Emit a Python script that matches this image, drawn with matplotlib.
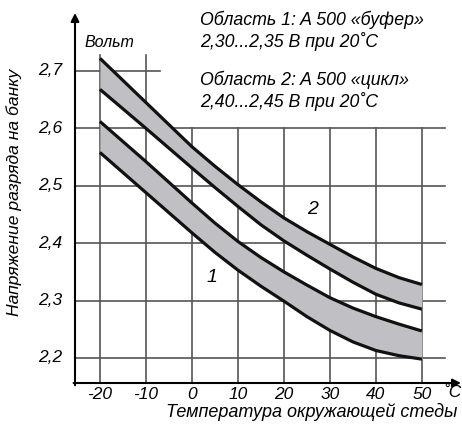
import matplotlib
matplotlib.use("Agg")
import matplotlib.pyplot as plt
import numpy as np

plt.rcParams['font.family'] = ['Liberation Sans', 'DejaVu Sans']

# Temperature, deg C
temps = [-20, -10, 0, 5, 10, 15, 20, 25, 30, 35, 40, 45, 50]
# Region 2 ("cycle") band, upper and lower edge, V
band2_top = [2.722, 2.645, 2.568, 2.534, 2.502, 2.472, 2.444, 2.420, 2.398, 2.376, 2.356, 2.340, 2.328]
band2_bot = [2.668, 2.600, 2.531, 2.497, 2.464, 2.432, 2.404, 2.379, 2.355, 2.332, 2.311, 2.296, 2.285]
# Region 1 ("buffer") band
band1_top = [2.612, 2.542, 2.470, 2.435, 2.403, 2.375, 2.350, 2.327, 2.305, 2.287, 2.272, 2.259, 2.247]
band1_bot = [2.558, 2.488, 2.418, 2.384, 2.353, 2.325, 2.299, 2.272, 2.248, 2.228, 2.213, 2.204, 2.198]

x_ticks = [-20, -10, 0, 10, 20, 30, 40, 50]
x_tick_labels = ["-20", "-10", "0", "10", "20", "30", "40", "50"]
y_ticks = [2.2, 2.3, 2.4, 2.5, 2.6, 2.7]
y_tick_labels = ["2,2", "2,3", "2,4", "2,5", "2,6", "2,7"]

xmin, xmax = -25.43, 58.5
ymin, ymax = 2.1564, 2.801

fig = plt.figure(figsize=(4.62, 4.25), dpi=100)
ax = fig.add_axes([75 / 462, 42 / 425, (461 - 75) / 462, (383 - 13) / 425])
ax.set_xlim(xmin, xmax)
ax.set_ylim(ymin, ymax)
ax.axis("off")

grid_color = "#555555"
# horizontal grid lines
for v in y_ticks:
    right = -7 if v > 2.65 else 55
    ax.plot([xmin, right], [v, v], color=grid_color, lw=1.2, zorder=1)
# vertical grid lines
for t in x_ticks:
    top = 2.728 if t < 0 else 2.6
    ax.plot([t, t], [ymin, top], color=grid_color, lw=1.2, zorder=1)

# shaded bands
band_color = "#c0c0c4"
ax.fill_between(temps, band2_bot, band2_top, color=band_color, lw=0, zorder=2)
ax.fill_between(temps, band1_bot, band1_top, color=band_color, lw=0, zorder=2)
for series in [band2_top, band2_bot, band1_top, band1_bot]:
    ax.plot(temps, series, color="#111111", lw=2.3, zorder=3,
            solid_capstyle="butt", solid_joinstyle="round")

# axes with arrows
ax.annotate("", xy=(xmin, ymax), xytext=(xmin, ymin - 0.004),
            arrowprops=dict(arrowstyle="-|>", color="black", lw=1.5,
                            mutation_scale=12, shrinkA=0, shrinkB=0))
ax.annotate("", xy=(xmax, ymin), xytext=(xmin - 0.3, ymin),
            arrowprops=dict(arrowstyle="-|>", color="black", lw=1.5,
                            mutation_scale=12, shrinkA=0, shrinkB=0))

for v, lab in zip(y_ticks, y_tick_labels):
    ax.text(-28.3, v, lab, ha="right", va="center", fontsize=12.5, style="italic")
for t, lab in zip(x_ticks, x_tick_labels):
    ax.text(t, 2.137, lab, ha="center", va="center", fontsize=12.5, style="italic")
ax.text(56.6, 2.139, "˚C", ha="center", va="center", fontsize=12.5, style="italic")

ax.text(26.0, 2.106, "Температура окружающей стеды", ha="center", va="center",
        fontsize=13, style="italic", clip_on=False)
ax.text(-38.6, 2.489, "Напряжение разряда на банку", ha="center", va="center",
        rotation=90, fontsize=12.6, style="italic", clip_on=False)
ax.text(-23.26, 2.750, "Вольт", ha="left", va="center", fontsize=11.5, style="italic")

notes = ["Область 1: A 500 «буфер»", "2,30...2,35 В при 20˚C",
         "Область 2: A 500 «цикл»", "2,40...2,45 В при 20˚C"]
note_y = [2.789, 2.751, 2.684, 2.646]
for s, v in zip(notes, note_y):
    ax.text(1.74, v, s, ha="left", va="center", fontsize=12.8, style="italic",
            clip_on=False)

ax.text(26.3, 2.458, "2", ha="center", va="center", fontsize=14, style="italic")
ax.text(4.35, 2.341, "1", ha="center", va="center", fontsize=14, style="italic")

fig.savefig("out.png", dpi=100)
